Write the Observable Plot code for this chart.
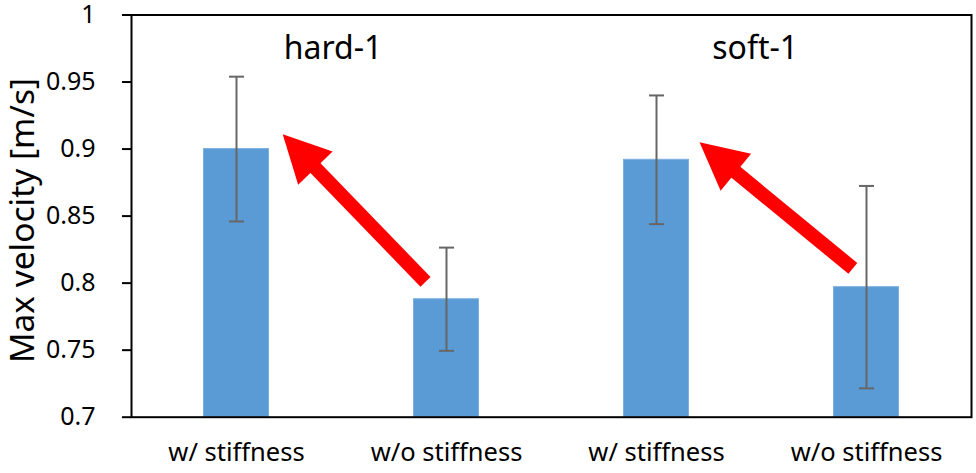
<!DOCTYPE html>
<html><head><meta charset="utf-8">
<script src="https://cdn.jsdelivr.net/npm/d3@7"></script>
<script src="https://cdn.jsdelivr.net/npm/@observablehq/plot@0.6"></script>
<style>
body{margin:0;background:#fff;}
svg [aria-label="y-axis"] line, svg [aria-label^="y-axis tick"] path, svg [aria-label^="y-axis tick"] line {stroke-width:2px;}
</style>
</head><body><div id="chart"></div>
<script>
// ---- data ----
const groups = ["hard-1", "soft-1"];
const conditions = ["w/ stiffness", "w/o stiffness", "w/ stiffness", "w/o stiffness"];
const maxVelocity = [0.900, 0.788, 0.892, 0.797];
const stdDev = [0.054, 0.0385, 0.048, 0.0755];
const yDomain = [0.7, 1];
const yTicks = [0.7, 0.75, 0.8, 0.85, 0.9, 0.95, 1];
const yTickLabels = ["0.7", "0.75", "0.8", "0.85", "0.9", "0.95", "1"];
const yLabel = "Max velocity [m/s]";
// annotation arrows (data units: bar index, m/s)
const arrowFromX = [0.90, 2.935];
const arrowFromY = [0.801, 0.811];
const arrowToX = [0.22, 2.205];
const arrowToY = [0.911, 0.905];
// group labels (data units)
const groupLabelX = [0.46, 2.47];
const groupLabelY = [0.975, 0.975];

const rows = conditions.map((c, i) => ({i, cond: c, v: maxVelocity[i], sd: stdDev[i]}));
const caps = rows.flatMap(d => [{i: d.i, y: d.v - d.sd}, {i: d.i, y: d.v + d.sd}]);

const base = {
  width: 976, height: 473,
  marginLeft: 131, marginRight: 5, marginTop: 14.5, marginBottom: 56.3,
  style: {fontFamily: "'Noto Sans', sans-serif", fontSize: "25px", color: "#000", background: "#fff", overflow: "visible"},
  x: {domain: [-0.5, conditions.length - 0.5], axis: null},
  y: {domain: yDomain, ticks: yTicks, tickFormat: d => yTickLabels[yTicks.indexOf(d)], tickSize: 9, tickPadding: 27, label: null}
};

// probe scales to orient the arrows in screen space
const probe = Plot.plot({...base, marks: [Plot.frame()]});
const sx = probe.scale("x"), sy = probe.scale("y");
const headLen = 47;
const arrows = arrowFromX.map((fx, k) => {
  const ax = sx.apply(fx), ay = sy.apply(arrowFromY[k]);
  const bx = sx.apply(arrowToX[k]), by = sy.apply(arrowToY[k]);
  const len = Math.hypot(bx - ax, by - ay);
  const ux = (bx - ax) / len, uy = (by - ay) / len;
  const ex = bx - ux * headLen * 0.7, ey = by - uy * headLen * 0.7;
  return {x1: fx, y1: arrowFromY[k], x2: sx.invert(ex), y2: sy.invert(ey),
          tipX: arrowToX[k], tipY: arrowToY[k], angle: Math.atan2(ux, -uy) * 180 / Math.PI};
});
const headSymbol = {draw(ctx) { ctx.moveTo(0, 0); ctx.lineTo(-24, headLen); ctx.lineTo(24, headLen); ctx.closePath(); }};
const capSymbol = {draw(ctx) { ctx.moveTo(-7.5, 0); ctx.lineTo(7.5, 0); }};

const chart = Plot.plot({
  ...base,
  marks: [
    Plot.rect(rows, {x1: d => d.i - 0.5, x2: d => d.i + 0.5, y1: () => yDomain[0], y2: "v",
      insetLeft: 72.5, insetRight: 72.5, fill: "#5B9BD5", stroke: "#7DB0E0", strokeWidth: 1}),
    Plot.ruleX(rows, {x: "i", y1: d => d.v - d.sd, y2: d => d.v + d.sd, stroke: "#666666", strokeWidth: 2}),
    Plot.dot(caps, {x: "i", y: "y", symbol: capSymbol, stroke: "#666666", strokeWidth: 2, fill: "none"}),
    Plot.frame({stroke: "#000", strokeWidth: 2}),
    Plot.link(arrows, {x1: "x1", y1: "y1", x2: "x2", y2: "y2", stroke: "#FF0000", strokeWidth: 14}),
    Plot.dot(arrows, {x: "tipX", y: "tipY", symbol: headSymbol, rotate: "angle", fill: "#FF0000", stroke: "none"}),
    Plot.text(groups, {x: (d, i) => groupLabelX[i], y: (d, i) => groupLabelY[i], text: d => d, fontSize: 32, fill: "#000"}),
    Plot.text(rows, {x: "i", frameAnchor: "bottom", dy: 44, text: "cond", fontSize: 25.5, fill: "#000"}),
    Plot.text([yLabel], {frameAnchor: "left", textAnchor: "middle", dx: -108, dy: 4.4, rotate: -90, text: d => d, fontSize: 33.5, fill: "#000"})
  ]
});
document.getElementById("chart").appendChild(chart);
</script>
</body></html>
